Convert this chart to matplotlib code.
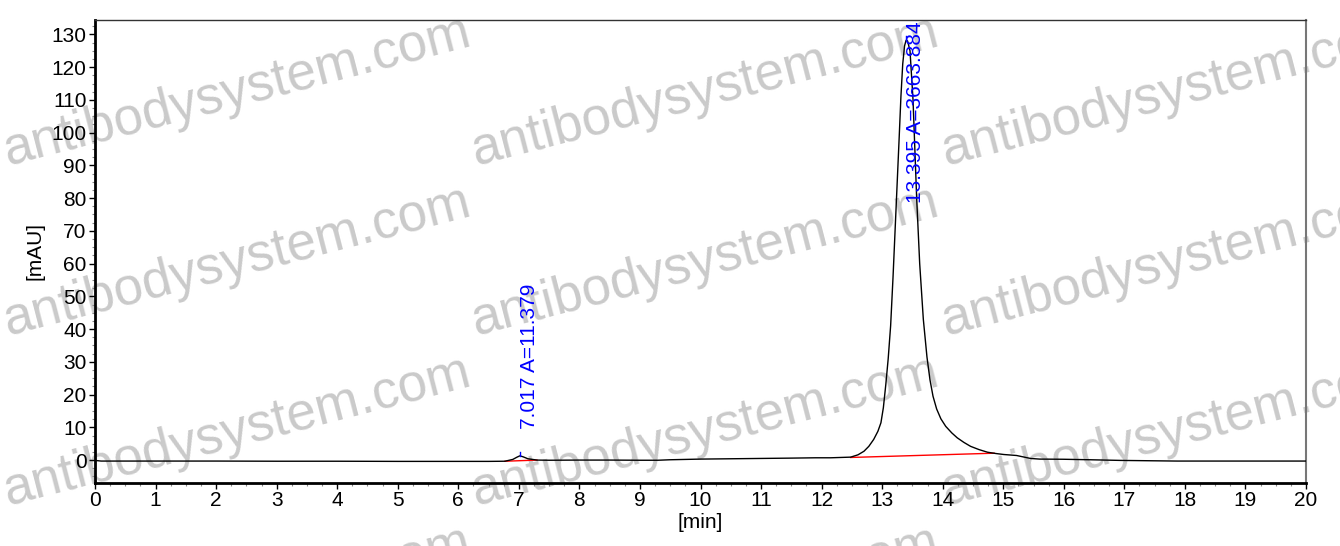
import matplotlib
matplotlib.use("Agg")
import matplotlib.pyplot as plt
from matplotlib.ticker import MultipleLocator

plt.rcParams['font.family'] = ['Liberation Sans', 'DejaVu Sans']

# chromatogram trace (min, mAU)
times = [0, 0.1, 1, 2, 3, 4, 5, 6, 6.5, 6.77, 6.9, 6.97, 7.017, 7.07, 7.15, 7.3,
         7.5, 8, 8.5, 9, 9.3, 9.5, 10, 10.5, 11, 11.5, 11.9, 12.15, 12.48, 12.6,
         12.7, 12.78, 12.86, 12.93, 12.98, 13.02, 13.06, 13.10, 13.14, 13.18,
         13.23, 13.28, 13.31, 13.34, 13.37, 13.395, 13.42, 13.46, 13.51, 13.57,
         13.62, 13.68, 13.74, 13.79, 13.84, 13.90, 13.97, 14.05, 14.15, 14.24,
         14.35, 14.46, 14.6, 14.74, 14.88, 15.01, 15.22, 15.45, 15.6, 15.99,
         16.43, 16.93, 17.4, 17.87, 18.5, 19, 20]
signal = [-0.1, -0.3, -0.3, -0.3, -0.35, -0.35, -0.4, -0.4, -0.4, -0.35, 0.2,
          0.9, 1.3, 1.0, 0.4, 0.0, -0.05, 0.0, 0.0, -0.05, -0.05, 0.1, 0.3, 0.4,
          0.5, 0.6, 0.7, 0.7, 0.9, 1.6, 2.7, 4.2, 6.3, 8.8, 11.4, 16, 23,
          31, 41, 56, 77, 98, 111, 121, 126.5, 128.2, 128, 125, 110, 80,
          60, 43, 31.5, 24.5, 19.5, 15.6, 12.6, 10.3, 8.3, 6.8, 5.4, 4.2, 3.2,
          2.4, 2.0, 1.7, 1.4, 0.5, 0.3, 0.25, 0.1, -0.1, -0.2, -0.3, -0.3, -0.3,
          -0.3]

# integration baselines (red)
base1_t = [6.77, 7.3]
base1_v = [-0.35, 0.0]
base2_t = [12.48, 14.85]
base2_v = [0.8, 2.1]

# peak annotations
peak_t = [7.017, 13.395]
peak_h = [1.3, 128.2]
label_y = [9.4, 78.5]
peak_labels = ["7.017 A=11.379", "13.395 A=3663.884"]

fig = plt.figure(figsize=(13.4, 5.46), dpi=100)
ax = fig.add_axes([95/1340, 1-483/546, 1211/1340, 463/546])
ax.set_facecolor('none')

# watermark
wm_x = [237, 705, 1175]
wm_y = [92, 262, 432, 602]
for cx in wm_x:
    for cy in wm_y:
        fig.text(cx/1340, 1-cy/546, "antibodysystem.com", fontsize=38,
                 color='#cacaca', rotation=14.5, ha='center', va='center',
                 rotation_mode='anchor', zorder=-1)

ax.plot(times, signal, color='black', lw=1.0, zorder=3)
ax.plot(base1_t, base1_v, color='red', lw=1.0, zorder=2)
ax.plot(base2_t, base2_v, color='red', lw=1.0, zorder=2)

for t, h, ly, lab in zip(peak_t, peak_h, label_y, peak_labels):
    ax.plot([t, t], [h, h + 1.3], color='blue', lw=1.0, zorder=4)
    ax.annotate(lab, xy=(t, ly), xytext=(7, 0), textcoords='offset points',
                rotation=90, ha='center', va='bottom', color='blue',
                fontsize=15, annotation_clip=False, zorder=5)

ax.set_xlim(0, 20)
ax.set_ylim(-7.0, 134.4)
ax.xaxis.set_major_locator(MultipleLocator(1))
ax.xaxis.set_minor_locator(MultipleLocator(0.25))
ax.yaxis.set_major_locator(MultipleLocator(10))
ax.yaxis.set_minor_locator(MultipleLocator(2.5))
ax.set_yticks(range(0, 131, 10))
ax.tick_params(which='major', direction='out', length=4, width=1, labelsize=15, pad=2)
ax.tick_params(which='minor', direction='out', length=2.5, width=0.8, color='#888888')

ax.spines['left'].set_linewidth(2)
ax.spines['bottom'].set_linewidth(2)
ax.spines['top'].set_linewidth(1)
ax.spines['top'].set_color('#333333')
ax.spines['right'].set_linewidth(1.5)
ax.spines['right'].set_color('#777777')

ax.set_xlabel("[min]", fontsize=15, labelpad=2)
ax.set_ylabel("[mAU]", fontsize=15, labelpad=5)

plt.savefig('out.png', dpi=100)
